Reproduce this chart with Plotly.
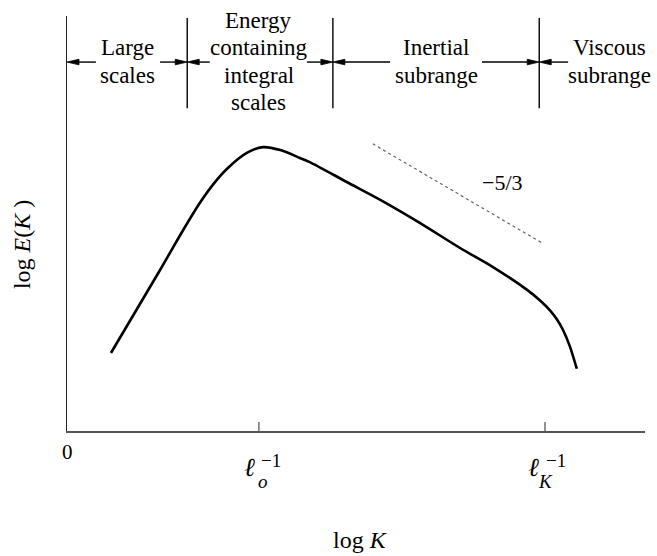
import plotly.graph_objects as go

# Turbulent energy spectrum, log E(K) against log K (arbitrary axis units 0..10)
log_k = [0.76, 1.61, 2.00, 2.30, 2.55, 2.77, 3.11, 3.39, 3.69, 4.03, 4.20, 4.84,
         5.42, 6.11, 6.80, 7.37, 7.96, 8.18, 8.36, 8.48, 8.58, 8.70, 8.82]
log_e = [1.88, 3.88, 4.82, 5.50, 5.98, 6.32, 6.70, 6.84, 6.77, 6.58, 6.48, 6.00,
         5.57, 5.01, 4.41, 3.95, 3.40, 3.15, 2.90, 2.68, 2.44, 2.04, 1.50]

# Kolmogorov -5/3 reference slope
slope_k = [5.29, 8.22]
slope_e = [6.92, 4.53]
slope_label = "\u22125/3"

# Characteristic wavenumbers on the log K axis
tick_k = [3.32, 8.27]
tick_sub = ["o", "K"]

# Spectral ranges: boundaries and labels
range_edges = [2.08, 4.60, 8.17]
range_label_k = [1.05, 3.32, 6.39, 9.38]
range_labels = [["Large", "scales"],
                ["Energy", "containing", "integral", "scales"],
                ["Inertial", "subrange"],
                ["Viscous", "subrange"]]

# Range arrows: tail and tip positions along log K
arrow_tail = [0.50, 1.61, 2.47, 4.15, 5.59, 7.18, 8.67]
arrow_tip = [0.00, 2.08, 2.08, 4.60, 4.60, 8.17, 8.17]

FONT = "Liberation Serif, Times New Roman, serif"
PX_X = 57.8   # pixels per x unit
PX_Y = 41.5   # pixels per y unit
ARROW_Y = 8.89
SEP_Y = (7.78, 9.95)
LINE_PITCH = 27.5 / PX_Y

fig = go.Figure()

# spectrum curve
fig.add_trace(go.Scatter(x=log_k, y=log_e, mode="lines",
                         line=dict(color="black", width=2.6, shape="spline", smoothing=0.8),
                         hoverinfo="skip"))

# -5/3 slope line
fig.add_trace(go.Scatter(x=slope_k, y=slope_e, mode="lines",
                         line=dict(color="#666666", width=1.2, dash="3px,3px"),
                         hoverinfo="skip"))

# range separators
sx, sy = [], []
for e in range_edges:
    sx += [e, e, None]
    sy += [SEP_Y[0], SEP_Y[1], None]
fig.add_trace(go.Scatter(x=sx, y=sy, mode="lines",
                         line=dict(color="black", width=1.4), hoverinfo="skip",
                         cliponaxis=False))

# arrows: shafts and filled heads
head_len = 12 / PX_X
head_half = 2.8 / PX_Y
shx, shy, hx, hy = [], [], [], []
for t, p in zip(arrow_tail, arrow_tip):
    d = 1 if p > t else -1
    base = p - d * head_len
    shx += [t, base, None]
    shy += [ARROW_Y, ARROW_Y, None]
    hx += [p, base, base, p, None]
    hy += [ARROW_Y, ARROW_Y + head_half, ARROW_Y - head_half, ARROW_Y, None]
fig.add_trace(go.Scatter(x=shx, y=shy, mode="lines",
                         line=dict(color="black", width=1.4), hoverinfo="skip",
                         cliponaxis=False))
fig.add_trace(go.Scatter(x=hx, y=hy, mode="lines", fill="toself", fillcolor="black",
                         line=dict(color="black", width=0.8), hoverinfo="skip",
                         cliponaxis=False))

# tick marks crossing the log K axis
tx, ty = [], []
for k in tick_k:
    tx += [k, k, None]
    ty += [-9 / PX_Y, 9 / PX_Y, None]
fig.add_trace(go.Scatter(x=tx, y=ty, mode="lines",
                         line=dict(color="#555555", width=1.3), hoverinfo="skip",
                         cliponaxis=False))

annotations = []

# range labels, one line each
for k, lines in zip(range_label_k, range_labels):
    top = 9.23 if len(lines) == 2 else 9.23 + LINE_PITCH
    for i, s in enumerate(lines):
        annotations.append(dict(x=k, y=top - i * LINE_PITCH, xref="x", yref="y",
                                text=s, showarrow=False,
                                font=dict(family=FONT, size=23, color="black"),
                                xanchor="center", yanchor="middle"))

# slope label
annotations.append(dict(x=7.54, y=6.0, xref="x", yref="y", text=slope_label,
                        showarrow=False, xanchor="center", yanchor="middle",
                        font=dict(family=FONT, size=22, color="black")))

# origin label
annotations.append(dict(x=0, y=0, xref="x", yref="paper", text="0", showarrow=False,
                        xanchor="center", yanchor="middle", yshift=-21,
                        font=dict(family=FONT, size=21, color="black")))

# wavenumber tick labels: script l with subscript and -1 superscript
ell_dx = [-9, -12]
sub_dx = [4, 0]
sup_dx = [12, 11]
for k, s, a, b, c in zip(tick_k, tick_sub, ell_dx, sub_dx, sup_dx):
    annotations.append(dict(x=k, y=0, xref="x", yref="paper", text="<i>\u2113</i>",
                            showarrow=False, xanchor="center", yanchor="middle",
                            xshift=a, yshift=-36,
                            font=dict(family=FONT, size=26, color="black")))
    annotations.append(dict(x=k, y=0, xref="x", yref="paper", text="<i>" + s + "</i>",
                            showarrow=False, xanchor="center", yanchor="middle",
                            xshift=b, yshift=-50,
                            font=dict(family=FONT, size=19, color="black")))
    annotations.append(dict(x=k, y=0, xref="x", yref="paper", text="\u22121",
                            showarrow=False, xanchor="center", yanchor="middle",
                            xshift=c, yshift=-29,
                            font=dict(family=FONT, size=19, color="black")))

# axis titles
annotations.append(dict(x=5.07, y=0, xref="x", yref="paper", text="log <i>K</i>",
                        showarrow=False, xanchor="center", yanchor="middle", yshift=-109,
                        font=dict(family=FONT, size=24, color="black")))
annotations.append(dict(x=0, y=4.48, xref="paper", yref="y", text="log <i>E</i>(<i>K</i> )",
                        showarrow=False, xanchor="center", yanchor="middle",
                        xshift=-45, textangle=-90,
                        font=dict(family=FONT, size=24, color="black")))

fig.update_layout(
    width=657, height=556, autosize=False,
    margin=dict(l=67, r=12, t=16, b=125),
    paper_bgcolor="white", plot_bgcolor="white",
    showlegend=False,
    annotations=annotations,
    xaxis=dict(range=[0, 10], showgrid=False, zeroline=False, showticklabels=False,
               ticks="", showline=True, linecolor="#555555", linewidth=1.5, fixedrange=True),
    yaxis=dict(range=[0, 10], showgrid=False, zeroline=False, showticklabels=False,
               ticks="", showline=True, linecolor="#222222", linewidth=1.3, fixedrange=True),
)

fig.write_html("out.html")
